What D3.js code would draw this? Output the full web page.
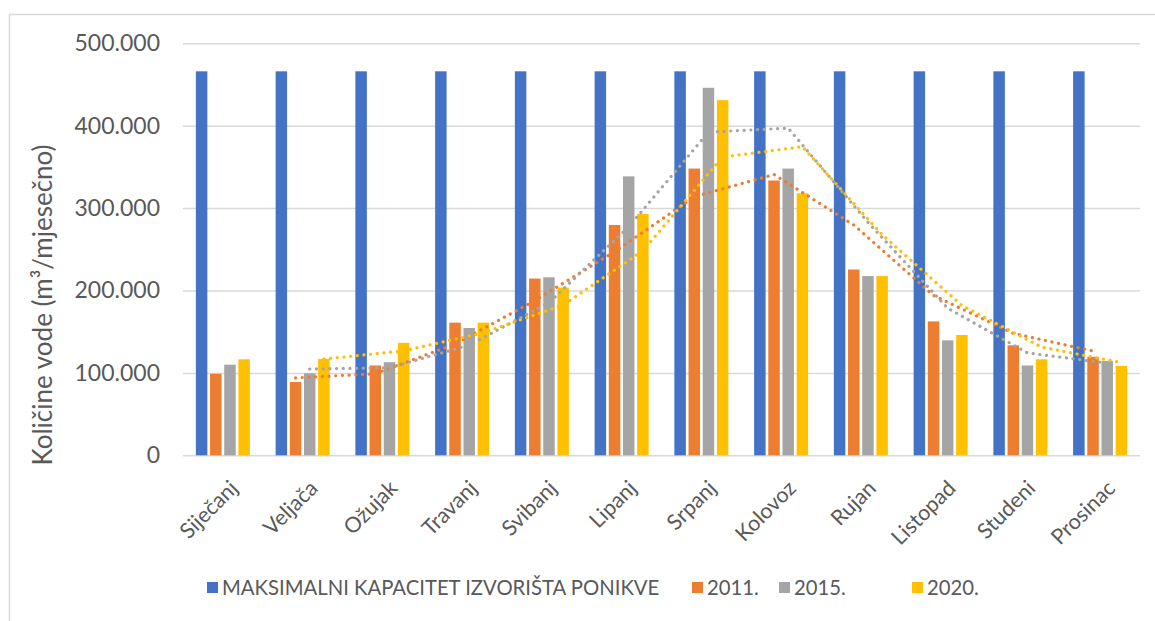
<!DOCTYPE html>
<html>
<head>
<meta charset="utf-8">
<script src="https://cdnjs.cloudflare.com/ajax/libs/d3/7.8.5/d3.min.js"></script>
<style>
  html, body { margin: 0; padding: 0; background: #fff; }
  svg { display: block; }
  text { font-family: Lato, "Open Sans", sans-serif; fill: #595959; }
</style>
</head>
<body>
<svg id="chart" width="1155" height="621"></svg>
<script>
const months = ["Siječanj","Veljača","Ožujak","Travanj","Svibanj","Lipanj","Srpanj","Kolovoz","Rujan","Listopad","Studeni","Prosinac"];
const seriesNames = ["MAKSIMALNI KAPACITET IZVORIŠTA PONIKVE","2011.","2015.","2020."];
const capacity = [466000,466000,466000,466000,466000,466000,466000,466000,466000,466000,466000,466000];
const y2011 = [99000, 89000, 109000, 161000, 214500, 279500, 348000, 333500, 225500, 162500, 133500, 119500];
const y2015 = [110000, 99500, 113000, 154500, 216000, 338500, 446000, 348000, 217500, 139500, 109000, 114500];
const y2020 = [116500, 117000, 136500, 161000, 203500, 293000, 431000, 318000, 217500, 146000, 116500, 108500];
const yTicks = [0, 100000, 200000, 300000, 400000, 500000];
const colors = ["#4472C4", "#ED7D31", "#A5A5A5", "#FFC000"];
const yTitle = "Količine vode (m³/mjesečno)";

const allSeries = [capacity, y2011, y2015, y2020];
const svg = d3.select("#chart");

// outer chart frame
svg.append("rect").attr("x", 9.5).attr("y", 14.5).attr("width", 1200).attr("height", 700)
  .attr("fill", "none").attr("stroke", "#d9d9d9").attr("stroke-width", 1.5);

const pLeft = 183, pRight = 1140, pTop = 43.3, pBottom = 455.3;
const x0 = d3.scaleBand().domain(months).range([pLeft, pRight]).paddingInner(0).paddingOuter(0);
const x1 = d3.scaleBand().domain(d3.range(4)).range([-27, 27]).paddingInner(0.19).paddingOuter(0);
const y = d3.scaleLinear().domain([0, 500000]).range([pBottom, pTop]);

const fmt = v => v === 0 ? "0" : d3.format(",")(v).replace(/,/g, ".");

// gridlines
const yAxis = d3.axisLeft(y).tickValues(yTicks).tickSize(-(pRight - pLeft)).tickFormat(fmt).tickPadding(23);
const gy = svg.append("g").attr("transform", `translate(${pLeft},0)`).call(yAxis);
gy.select(".domain").remove();
gy.selectAll(".tick line").attr("stroke", "#d9d9d9").attr("stroke-width", 1.5);
gy.selectAll(".tick text").attr("font-size", 23).attr("fill", "#595959")
  .style("font-family", "Lato, 'Open Sans', sans-serif");

// bars
const groups = svg.append("g").selectAll("g").data(months).join("g")
  .attr("transform", d => `translate(${x0(d) + x0.bandwidth() / 2},0)`);
groups.selectAll("rect").data((m, i) => allSeries.map((s, k) => ({k, v: s[i]})))
  .join("rect")
  .attr("x", d => x1(d.k))
  .attr("width", x1.bandwidth())
  .attr("y", d => y(d.v))
  .attr("height", d => y(0) - y(d.v))
  .attr("fill", d => colors[d.k]);

// 2-period moving average trendlines (placed at each series' bar centres)
[1, 2, 3].forEach(k => {
  const s = allSeries[k];
  const pts = [];
  for (let i = 1; i < s.length; i++) {
    pts.push([x0(months[i]) + x0.bandwidth() / 2 + x1(k) + x1.bandwidth() / 2, y((s[i - 1] + s[i]) / 2)]);
  }
  svg.append("path").attr("d", d3.line()(pts))
    .attr("fill", "none")
    .attr("stroke", colors[k])
    .attr("stroke-width", 3.2)
    .attr("stroke-linecap", "round")
    .attr("stroke-dasharray", "0.1 6.6");
});

// x labels
const xAxis = d3.axisBottom(x0).tickSize(0).tickPadding(0);
const gx = svg.append("g").attr("transform", `translate(0,${pBottom})`).call(xAxis);
gx.select(".domain").remove();
gx.selectAll(".tick text")
  .attr("font-size", 21.5)
  .attr("fill", "#595959")
  .style("font-family", "Lato, 'Open Sans', sans-serif")
  .attr("text-anchor", "end")
  .attr("dy", "0.35em")
  .attr("transform", "translate(11,29) rotate(-45)");

// y title
svg.append("text")
  .attr("transform", "translate(52,305) rotate(-90)")
  .attr("text-anchor", "middle")
  .attr("font-size", 26)
  .text(yTitle);

// legend
const legendX = [207, 692, 779, 912];
const lg = svg.append("g");
seriesNames.forEach((n, k) => {
  lg.append("rect").attr("x", legendX[k]).attr("y", 582).attr("width", 11).attr("height", 11).attr("fill", colors[k]);
  lg.append("text").attr("x", legendX[k] + 15).attr("y", 588).attr("dy", "0.35em")
    .attr("font-size", 20.3).text(n);
});
</script>
</body>
</html>
